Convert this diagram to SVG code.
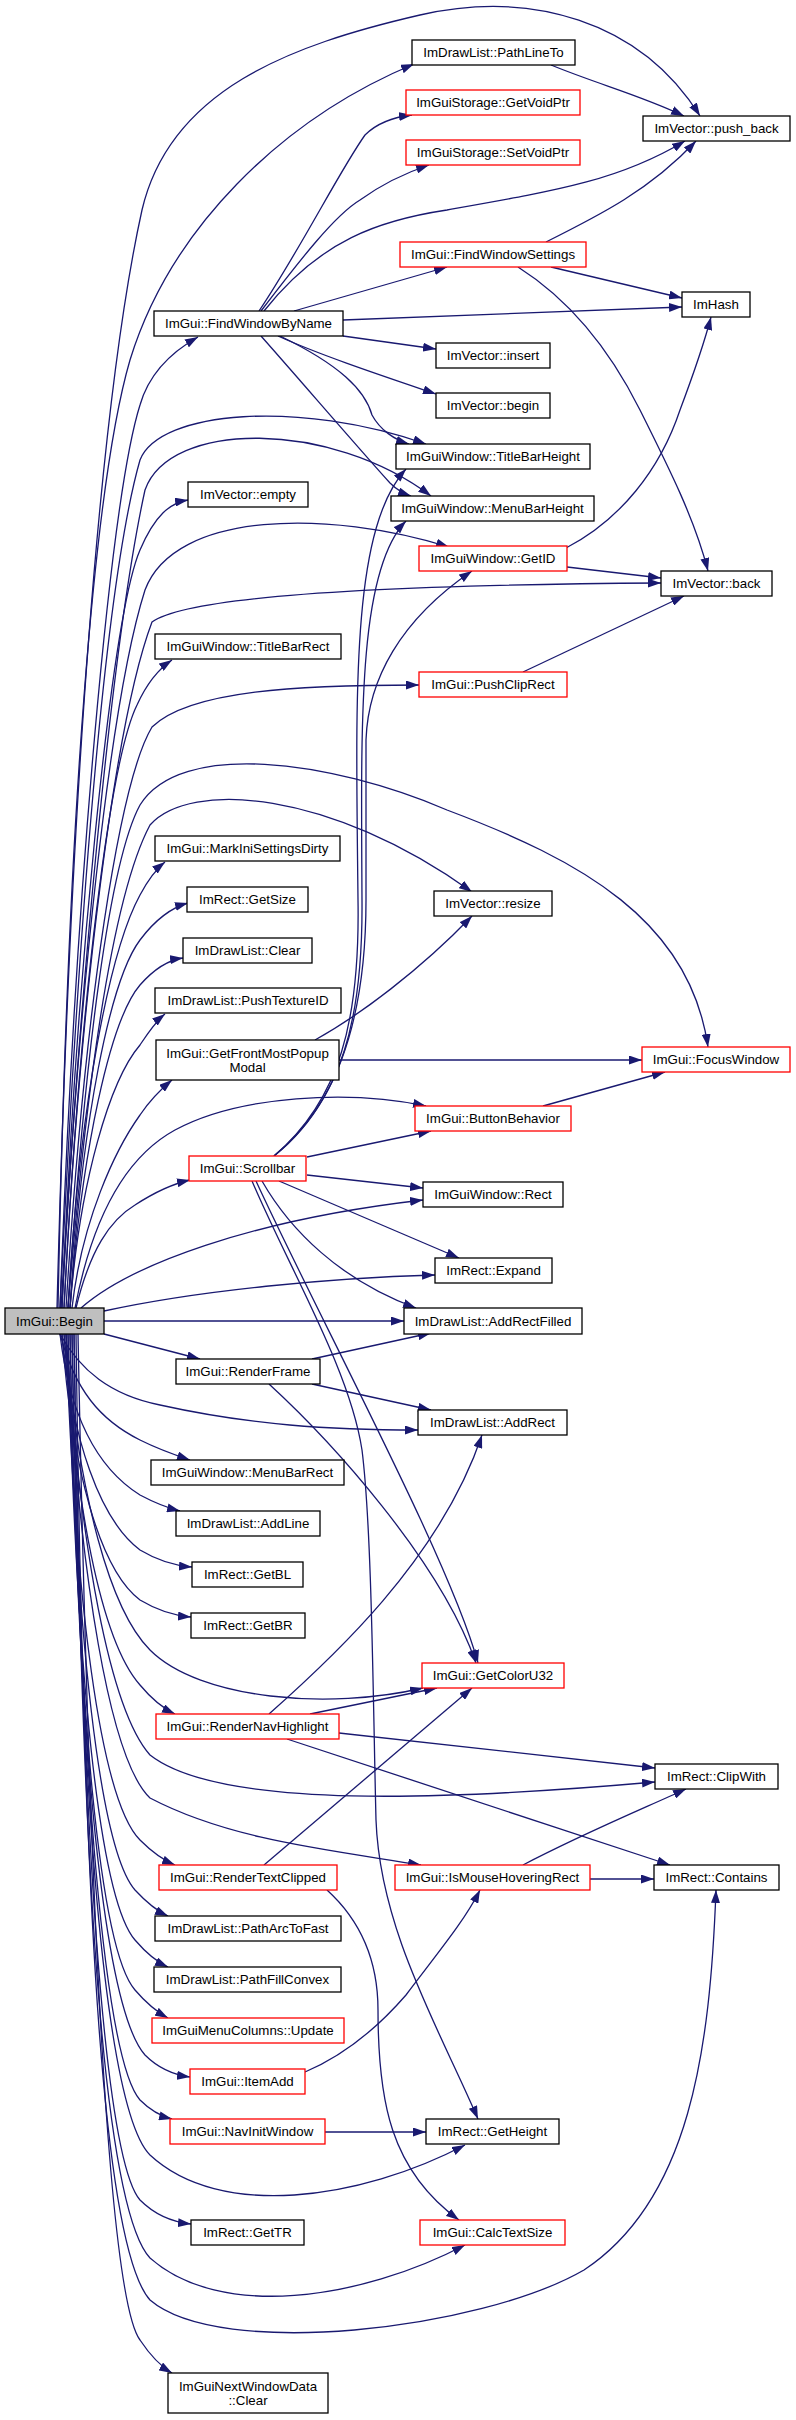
<svg xmlns="http://www.w3.org/2000/svg" width="796" height="2420" viewBox="0 0 796 2420">
<style>
.n rect{fill:#fff;stroke:#000;stroke-width:1.3}
.r rect{stroke:#f00}
.g rect{fill:#bfbfbf}
text{font-family:"Liberation Sans",Arial,sans-serif;font-size:13.3px;text-anchor:middle;fill:#000}
.e{fill:none;stroke:#191970;stroke-width:1.3;marker-end:url(#a)}
</style>
<defs>
<marker id="a" markerUnits="userSpaceOnUse" markerWidth="13" markerHeight="9" viewBox="0 0 13 9" refX="13" refY="4.5" orient="auto">
<path d="M0,0 L13,4.5 L0,9 z" fill="#191970"/>
</marker>
</defs>
<rect width="796" height="2420" fill="#fff"/>
<g id="edges">
<path class="e" d="M60,1308 C75,900 110,500 140,405 C150,370 175,350 198,337"/>
<path class="e" d="M57,1308 C70,800 100,400 142,210 C170,90 290,45 420,15 C530,-10 640,20 700,116"/>
<path class="e" d="M58,1308 C68,800 95,480 130,360 C170,230 280,120 414,64"/>
<path class="e" d="M60,1308 C75,1000 100,600 140,460 C160,410 300,400 426,444"/>
<path class="e" d="M61,1308 C80,1000 110,650 145,490 C170,420 330,420 431,496"/>
<path class="e" d="M62,1308 C75,1000 110,620 140,550 C155,515 170,503 188,500"/>
<path class="e" d="M62,1308 C78,1000 110,700 145,590 C175,510 330,510 449,547"/>
<path class="e" d="M64,1308 C80,1000 115,720 152,622 C185,598 350,585 661,583"/>
<path class="e" d="M64,1308 C80,1000 110,760 137,705 C147,683 160,668 172,660"/>
<path class="e" d="M66,1308 C85,1000 120,780 152,727 C190,690 300,685 419,685"/>
<path class="e" d="M68,1308 C85,1050 110,860 140,805 C180,740 330,760 447,810 C580,860 690,920 708,1047"/>
<path class="e" d="M68,1308 C85,1100 110,900 150,825 C190,780 330,790 472,892"/>
<path class="e" d="M68,1308 C80,1100 110,950 140,895 C148,880 155,870 165,862"/>
<path class="e" d="M70,1308 C82,1120 110,980 140,940 C155,920 170,908 188,903"/>
<path class="e" d="M70,1308 C82,1150 110,1020 140,985 C155,968 168,960 183,958"/>
<path class="e" d="M70,1308 C80,1180 110,1080 140,1045 C148,1033 155,1022 165,1014"/>
<path class="e" d="M72,1308 C82,1220 115,1150 140,1115 C150,1100 160,1090 172,1080"/>
<path class="e" d="M75,1308 C90,1230 120,1160 175,1130 C240,1095 350,1090 426,1106"/>
<path class="e" d="M76,1308 C90,1250 110,1220 135,1205 C155,1192 172,1184 190,1180"/>
<path class="e" d="M81,1308 C130,1265 250,1220 423,1200"/>
<path class="e" d="M104,1311 C200,1290 330,1278 435,1275"/>
<path class="e" d="M104,1321 L404,1321"/>
<path class="e" d="M104,1334 L200,1359"/>
<path class="e" d="M60,1334 C80,1370 110,1395 160,1405 C250,1425 330,1430 418,1430"/>
<path class="e" d="M60,1334 C75,1390 100,1420 140,1440 C160,1450 175,1455 190,1460"/>
<path class="e" d="M60,1334 C70,1420 100,1470 140,1495 C155,1503 168,1508 180,1511"/>
<path class="e" d="M62,1334 C72,1440 100,1520 140,1550 C160,1562 178,1566 192,1567"/>
<path class="e" d="M62,1334 C72,1470 100,1570 140,1600 C160,1612 178,1616 191,1617"/>
<path class="e" d="M64,1334 C80,1500 110,1610 150,1650 C200,1700 330,1710 423,1688"/>
<path class="e" d="M64,1334 C75,1500 100,1640 140,1685 C150,1697 160,1707 175,1714"/>
<path class="e" d="M66,1334 C80,1550 110,1710 150,1755 C220,1810 450,1800 655,1782"/>
<path class="e" d="M66,1334 C80,1580 110,1760 150,1798 C230,1840 330,1850 421,1865"/>
<path class="e" d="M66,1334 C75,1600 100,1800 140,1840 C152,1852 163,1860 175,1865"/>
<path class="e" d="M68,1334 C76,1640 100,1850 135,1890 C147,1903 157,1911 168,1916"/>
<path class="e" d="M68,1334 C76,1680 100,1900 135,1940 C147,1954 157,1962 168,1967"/>
<path class="e" d="M70,1334 C78,1720 100,1950 135,1990 C147,2004 157,2012 168,2018"/>
<path class="e" d="M70,1334 C78,1760 105,2010 145,2055 C160,2070 175,2075 190,2077"/>
<path class="e" d="M72,1334 C80,1780 105,2060 140,2100 C150,2110 160,2116 172,2119"/>
<path class="e" d="M72,1334 C80,1800 105,2110 150,2155 C220,2220 360,2200 465,2145"/>
<path class="e" d="M74,1334 C82,1850 105,2160 140,2200 C155,2215 172,2222 191,2224"/>
<path class="e" d="M74,1334 C82,1900 105,2210 150,2258 C220,2320 360,2300 465,2245"/>
<path class="e" d="M76,1334 C84,1950 105,2250 150,2300 C220,2360 480,2330 584,2270 C690,2200 710,2050 716,1890"/>
<path class="e" d="M78,1334 C90,1950 110,2300 140,2340 C150,2355 160,2366 172,2373"/>
<path class="e" d="M259,311 C300,250 340,170 365,135 C378,122 395,117 412,115"/>
<path class="e" d="M261,311 C300,260 335,215 360,200 C385,182 408,172 429,165"/>
<path class="e" d="M264,311 C320,240 380,220 447,210 C560,190 620,180 685,141"/>
<path class="e" d="M294,311 L447,267"/>
<path class="e" d="M343,320 L682,307"/>
<path class="e" d="M343,336 L436,349"/>
<path class="e" d="M278,336 C320,355 380,375 436,394"/>
<path class="e" d="M280,336 C340,365 365,390 372,415 C380,430 395,440 409,444"/>
<path class="e" d="M261,336 C300,380 360,450 390,483 C395,488 402,493 411,496"/>
<path class="e" d="M546,242 C600,215 650,190 696,141"/>
<path class="e" d="M551,267 L682,298"/>
<path class="e" d="M518,267 C570,300 610,350 640,410 C670,470 695,520 708,571"/>
<path class="e" d="M566,548 C620,520 660,470 680,410 C695,370 705,340 711,317"/>
<path class="e" d="M567,567 L661,578"/>
<path class="e" d="M551,65 C600,85 640,95 684,116"/>
<path class="e" d="M523,672 L684,596"/>
<path class="e" d="M274,1156 C340,1100 360,1020 358,900 C356,700 350,530 406,469"/>
<path class="e" d="M274,1156 C342,1100 363,1020 362,900 C361,720 358,570 406,521"/>
<path class="e" d="M274,1156 C345,1100 366,1000 366,900 L366,740 C368,680 400,620 472,571"/>
<path class="e" d="M307,1157 L431,1131"/>
<path class="e" d="M307,1175 L423,1188"/>
<path class="e" d="M279,1181 L459,1258"/>
<path class="e" d="M262,1181 C290,1230 340,1280 416,1308"/>
<path class="e" d="M256,1181 C320,1320 450,1560 478,1663"/>
<path class="e" d="M252,1181 C290,1270 350,1370 362,1450 C372,1530 373,1700 376,1820 C380,1930 440,2030 478,2119"/>
<path class="e" d="M312,1359 L431,1333"/>
<path class="e" d="M312,1384 L431,1410"/>
<path class="e" d="M269,1384 C330,1440 440,1560 476,1663"/>
<path class="e" d="M310,1714 L437,1688"/>
<path class="e" d="M269,1714 C330,1660 440,1560 482,1435"/>
<path class="e" d="M339,1733 L655,1768"/>
<path class="e" d="M287,1739 L670,1865"/>
<path class="e" d="M264,1865 L472,1688"/>
<path class="e" d="M327,1890 C360,1920 378,1960 378,2010 C378,2100 390,2170 459,2220"/>
<path class="e" d="M523,1865 C580,1835 640,1810 686,1789"/>
<path class="e" d="M590,1879 L654,1879"/>
<path class="e" d="M305,2072 C345,2055 380,2025 406,1995 C440,1950 465,1920 480,1890"/>
<path class="e" d="M325,2132 L426,2132"/>
<path class="e" d="M315,1040 C360,1015 420,970 472,916"/>
<path class="e" d="M339,1060 L642,1060"/>
<path class="e" d="M543,1106 L665,1072"/>
</g>
<g id="node_PathLineTo" class="n"><rect x="412" y="40" width="163" height="25"/><text x="493.5" y="57">ImDrawList::PathLineTo</text></g>
<g id="node_GetVoidPtr" class="n r"><rect x="406" y="90" width="174" height="25"/><text x="493" y="107">ImGuiStorage::GetVoidPtr</text></g>
<g id="node_SetVoidPtr" class="n r"><rect x="406" y="140" width="174" height="25"/><text x="493" y="157">ImGuiStorage::SetVoidPtr</text></g>
<g id="node_push_back" class="n"><rect x="643" y="116" width="147" height="25"/><text x="716.5" y="133">ImVector::push_back</text></g>
<g id="node_FindWindowSettings" class="n r"><rect x="400" y="242" width="186" height="25"/><text x="493" y="259">ImGui::FindWindowSettings</text></g>
<g id="node_ImHash" class="n"><rect x="682" y="292" width="68" height="25"/><text x="716" y="309">ImHash</text></g>
<g id="node_FindWindowByName" class="n"><rect x="154" y="311" width="189" height="25"/><text x="248.5" y="328">ImGui::FindWindowByName</text></g>
<g id="node_insert" class="n"><rect x="436" y="343" width="114" height="25"/><text x="493" y="360">ImVector::insert</text></g>
<g id="node_begin" class="n"><rect x="436" y="393" width="114" height="25"/><text x="493" y="410">ImVector::begin</text></g>
<g id="node_TitleBarHeight" class="n"><rect x="396" y="444" width="194" height="25"/><text x="493" y="461">ImGuiWindow::TitleBarHeight</text></g>
<g id="node_empty" class="n"><rect x="188" y="482" width="120" height="25"/><text x="248" y="499">ImVector::empty</text></g>
<g id="node_MenuBarHeight" class="n"><rect x="391" y="496" width="203" height="25"/><text x="492.5" y="513">ImGuiWindow::MenuBarHeight</text></g>
<g id="node_GetID" class="n r"><rect x="419" y="546" width="148" height="25"/><text x="493" y="563">ImGuiWindow::GetID</text></g>
<g id="node_back" class="n"><rect x="661" y="571" width="111" height="25"/><text x="716.5" y="588">ImVector::back</text></g>
<g id="node_TitleBarRect" class="n"><rect x="155" y="634" width="186" height="25"/><text x="248" y="651">ImGuiWindow::TitleBarRect</text></g>
<g id="node_PushClipRect" class="n r"><rect x="419" y="672" width="148" height="25"/><text x="493" y="689">ImGui::PushClipRect</text></g>
<g id="node_MarkIniSettingsDirty" class="n"><rect x="155" y="836" width="185" height="25"/><text x="247.5" y="853">ImGui::MarkIniSettingsDirty</text></g>
<g id="node_GetSize" class="n"><rect x="187" y="887" width="121" height="25"/><text x="247.5" y="904">ImRect::GetSize</text></g>
<g id="node_resize" class="n"><rect x="434" y="891" width="118" height="25"/><text x="493" y="908">ImVector::resize</text></g>
<g id="node_DrawListClear" class="n"><rect x="183" y="938" width="129" height="25"/><text x="247.5" y="955">ImDrawList::Clear</text></g>
<g id="node_PushTextureID" class="n"><rect x="155" y="988" width="186" height="25"/><text x="248" y="1005">ImDrawList::PushTextureID</text></g>
<g id="node_GetFrontMostPopupModal" class="n"><rect x="156" y="1040" width="183" height="40"/><text x="247.5" y="1058">ImGui::GetFrontMostPopup</text><text x="247.5" y="1072">Modal</text></g>
<g id="node_FocusWindow" class="n r"><rect x="642" y="1047" width="148" height="25"/><text x="716" y="1064">ImGui::FocusWindow</text></g>
<g id="node_ButtonBehavior" class="n r"><rect x="415" y="1106" width="156" height="25"/><text x="493" y="1123">ImGui::ButtonBehavior</text></g>
<g id="node_Scrollbar" class="n r"><rect x="189" y="1156" width="117" height="25"/><text x="247.5" y="1173">ImGui::Scrollbar</text></g>
<g id="node_Rect" class="n"><rect x="423" y="1182" width="140" height="25"/><text x="493" y="1199">ImGuiWindow::Rect</text></g>
<g id="node_Expand" class="n"><rect x="435" y="1258" width="117" height="25"/><text x="493.5" y="1275">ImRect::Expand</text></g>
<g id="node_Begin" class="n g"><rect x="5" y="1308" width="99" height="26"/><text x="54.5" y="1326">ImGui::Begin</text></g>
<g id="node_AddRectFilled" class="n"><rect x="404" y="1308" width="178" height="26"/><text x="493" y="1326">ImDrawList::AddRectFilled</text></g>
<g id="node_RenderFrame" class="n"><rect x="176" y="1359" width="144" height="25"/><text x="248" y="1376">ImGui::RenderFrame</text></g>
<g id="node_AddRect" class="n"><rect x="418" y="1410" width="149" height="25"/><text x="492.5" y="1427">ImDrawList::AddRect</text></g>
<g id="node_MenuBarRect" class="n"><rect x="151" y="1460" width="193" height="25"/><text x="247.5" y="1477">ImGuiWindow::MenuBarRect</text></g>
<g id="node_AddLine" class="n"><rect x="176" y="1511" width="144" height="25"/><text x="248" y="1528">ImDrawList::AddLine</text></g>
<g id="node_GetBL" class="n"><rect x="192" y="1562" width="111" height="25"/><text x="247.5" y="1579">ImRect::GetBL</text></g>
<g id="node_GetBR" class="n"><rect x="191" y="1613" width="114" height="25"/><text x="248" y="1630">ImRect::GetBR</text></g>
<g id="node_GetColorU32" class="n r"><rect x="422" y="1663" width="142" height="25"/><text x="493" y="1680">ImGui::GetColorU32</text></g>
<g id="node_RenderNavHighlight" class="n r"><rect x="156" y="1714" width="183" height="25"/><text x="247.5" y="1731">ImGui::RenderNavHighlight</text></g>
<g id="node_ClipWith" class="n"><rect x="655" y="1764" width="123" height="25"/><text x="716.5" y="1781">ImRect::ClipWith</text></g>
<g id="node_RenderTextClipped" class="n r"><rect x="159" y="1865" width="178" height="25"/><text x="248" y="1882">ImGui::RenderTextClipped</text></g>
<g id="node_IsMouseHoveringRect" class="n r"><rect x="395" y="1865" width="195" height="25"/><text x="492.5" y="1882">ImGui::IsMouseHoveringRect</text></g>
<g id="node_Contains" class="n"><rect x="654" y="1865" width="125" height="25"/><text x="716.5" y="1882">ImRect::Contains</text></g>
<g id="node_PathArcToFast" class="n"><rect x="155" y="1916" width="186" height="25"/><text x="248" y="1933">ImDrawList::PathArcToFast</text></g>
<g id="node_PathFillConvex" class="n"><rect x="154" y="1967" width="187" height="25"/><text x="247.5" y="1984">ImDrawList::PathFillConvex</text></g>
<g id="node_MenuColumnsUpdate" class="n r"><rect x="152" y="2018" width="192" height="25"/><text x="248" y="2035">ImGuiMenuColumns::Update</text></g>
<g id="node_ItemAdd" class="n r"><rect x="190" y="2069" width="115" height="25"/><text x="247.5" y="2086">ImGui::ItemAdd</text></g>
<g id="node_NavInitWindow" class="n r"><rect x="170" y="2119" width="155" height="25"/><text x="247.5" y="2136">ImGui::NavInitWindow</text></g>
<g id="node_GetHeight" class="n"><rect x="426" y="2119" width="133" height="25"/><text x="492.5" y="2136">ImRect::GetHeight</text></g>
<g id="node_GetTR" class="n"><rect x="191" y="2220" width="113" height="25"/><text x="247.5" y="2237">ImRect::GetTR</text></g>
<g id="node_CalcTextSize" class="n r"><rect x="420" y="2220" width="145" height="25"/><text x="492.5" y="2237">ImGui::CalcTextSize</text></g>
<g id="node_NextWindowDataClear" class="n"><rect x="168" y="2373" width="160" height="40"/><text x="248" y="2391">ImGuiNextWindowData</text><text x="248" y="2405">::Clear</text></g>
</svg>
